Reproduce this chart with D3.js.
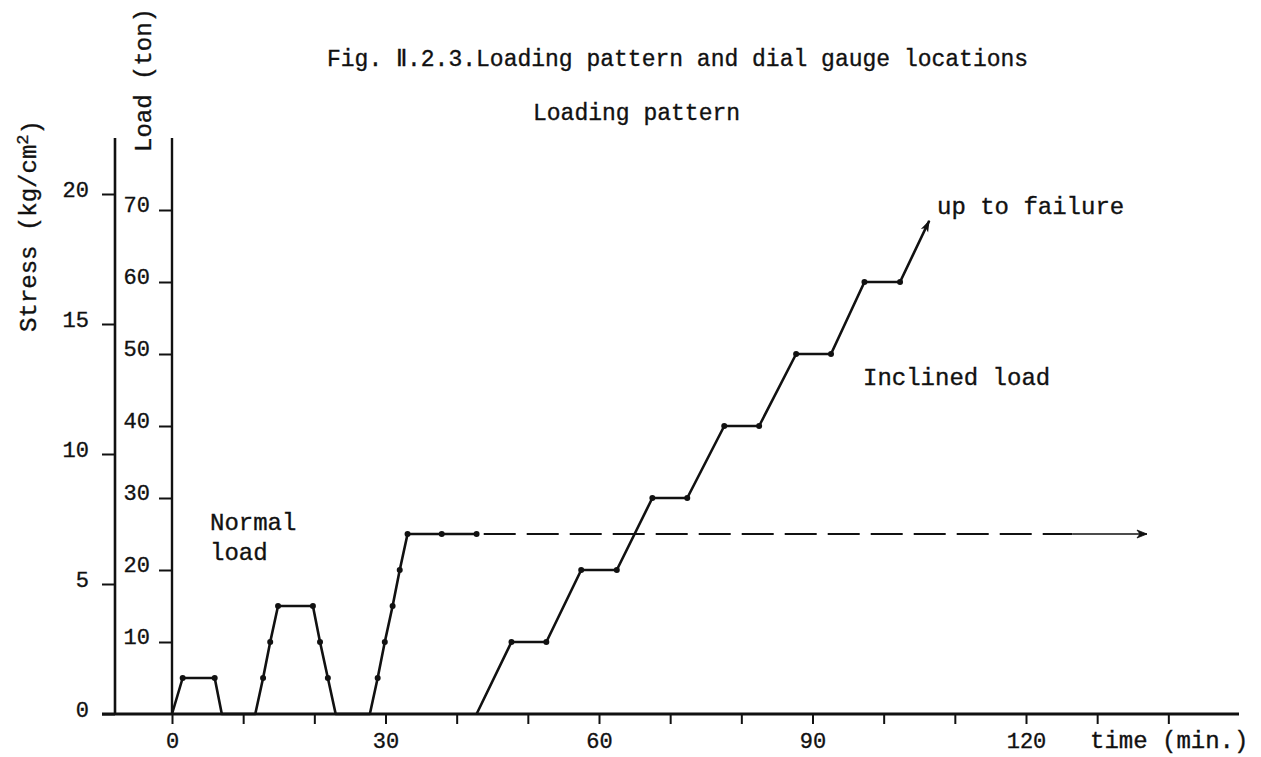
<!DOCTYPE html>
<html>
<head>
<meta charset="utf-8">
<script src="https://cdn.jsdelivr.net/npm/d3@7"></script>
<style>
body { margin: 0; background: #fff; }
text { font-family: "Liberation Mono", "DejaVu Sans Mono", monospace; fill: #111; stroke: #111; stroke-width: 0.35px; }
</style>
</head>
<body>
<div id="chart"></div>
<script>
var svgWidth = 1261;
var svgHeight = 757;

// normal load cycles: time (min) and load (ton)
var normalTime = [0, 1.5, 6, 7, 11.7, 12.8, 13.8, 14.9, 19.8, 20.8, 21.9, 23, 27.8, 28.9, 29.9, 31.0, 32.0, 33.1, 37.9, 42.8];
var normalLoad = [0, 5, 5, 0, 0, 5, 10, 15, 15, 10, 5, 0, 0, 5, 10, 15, 20, 25, 25, 25];

// normal load kept on (dashed part, then the arrow part)
var holdTime = [43.8, 126.5];
var holdLoad = [25, 25];
var holdEndTime = [126.5, 137];
var holdEndLoad = [25, 25];

// inclined load steps
var inclinedTime = [42.8, 47.7, 52.6, 57.5, 62.5, 67.5, 72.4, 77.6, 82.5, 87.7, 92.6, 97.3, 102.3, 106.4];
var inclinedLoad = [0, 10, 10, 20, 20, 30, 30, 40, 40, 50, 50, 60, 60, 68.5];

var stressTicks = [0, 5, 10, 15, 20];
var loadTicks = [10, 20, 30, 40, 50, 60, 70];
var timeTicks = [0, 10, 20, 30, 40, 50, 60, 70, 80, 90, 100, 110, 120, 130, 140];
var timeLabels = [0, 30, 60, 90, 120];

var svg = d3.select("#chart")
  .append("svg")
  .attr("width", svgWidth)
  .attr("height", svgHeight);

var x = d3.scaleLinear().domain([0, 120]).range([172, 1026]);
var yLoad = d3.scaleLinear().domain([0, 70]).range([714, 210]);
var yStress = d3.scaleLinear().domain([0, 20]).range([714, 194]);

var baseY = yLoad(0);

// arrow heads
var defs = svg.append("defs");
defs.append("marker")
  .attr("id", "arrowFill")
  .attr("viewBox", "0 0 12 10")
  .attr("refX", 11).attr("refY", 5)
  .attr("markerWidth", 12).attr("markerHeight", 10)
  .attr("markerUnits", "userSpaceOnUse")
  .attr("orient", "auto")
  .append("path")
  .attr("d", "M0,1 L12,5 L0,9 L3,5 Z")
  .attr("fill", "#111");
defs.append("marker")
  .attr("id", "arrowOpen")
  .attr("viewBox", "0 0 12 10")
  .attr("refX", 11).attr("refY", 5)
  .attr("markerWidth", 12).attr("markerHeight", 10)
  .attr("markerUnits", "userSpaceOnUse")
  .attr("orient", "auto")
  .append("path")
  .attr("d", "M1,1 L11,5 L1,9 L4,5 Z")
  .attr("fill", "#111")
  .attr("stroke", "#111")
  .attr("stroke-width", 0.8);

// axes
var stressAxis = svg.append("g")
  .attr("transform", "translate(115,0)")
  .call(d3.axisLeft(yStress).tickValues(stressTicks).tickSize(13).tickPadding(13));

var loadAxis = svg.append("g")
  .attr("transform", "translate(172,0)")
  .call(d3.axisLeft(yLoad).tickValues(loadTicks).tickSize(13).tickPadding(9));

var timeAxis = svg.append("g")
  .attr("transform", `translate(0,${baseY})`)
  .call(d3.axisBottom(x).tickValues(timeTicks).tickSize(10).tickPadding(8)
    .tickFormat(d => timeLabels.indexOf(d) >= 0 ? d : ""));

svg.selectAll(".domain").remove();
svg.selectAll(".tick line").attr("stroke", "#111").attr("stroke-width", 2);
svg.selectAll(".tick text")
  .style("font-size", "22px")
  .style("font-family", "'Liberation Mono', monospace")
  .attr("fill", "#111");
stressAxis.selectAll(".tick text").attr("dy", "0.12em");
loadAxis.selectAll(".tick text").attr("dy", "0.08em");

// axis lines
svg.append("line")
  .attr("x1", 115).attr("x2", 115).attr("y1", 138).attr("y2", baseY)
  .attr("stroke", "#111").attr("stroke-width", 2.6);
svg.append("line")
  .attr("x1", 172).attr("x2", 172).attr("y1", 138).attr("y2", baseY)
  .attr("stroke", "#111").attr("stroke-width", 2.4);
svg.append("line")
  .attr("x1", 102).attr("x2", 1239).attr("y1", baseY).attr("y2", baseY)
  .attr("stroke", "#111").attr("stroke-width", 3);

// data lines
var line = d3.line().x(d => x(d[0])).y(d => yLoad(d[1]));

var normalPts = normalTime.map((t, i) => [t, normalLoad[i]]);
var holdPts = holdTime.map((t, i) => [t, holdLoad[i]]);
var holdEndPts = holdEndTime.map((t, i) => [t, holdEndLoad[i]]);
var inclinedPts = inclinedTime.map((t, i) => [t, inclinedLoad[i]]);

svg.append("path")
  .datum(normalPts)
  .attr("d", line)
  .attr("fill", "none")
  .attr("stroke", "#111")
  .attr("stroke-width", 2.6)
  .attr("stroke-linejoin", "round");

svg.append("path")
  .datum(holdPts)
  .attr("d", line)
  .attr("fill", "none")
  .attr("stroke", "#111")
  .attr("stroke-width", 2.2)
  .attr("stroke-dasharray", "32,11");

svg.append("path")
  .datum(holdEndPts)
  .attr("d", line)
  .attr("fill", "none")
  .attr("stroke", "#111")
  .attr("stroke-width", 1.4)
  .attr("marker-end", "url(#arrowOpen)");

svg.append("path")
  .datum(inclinedPts)
  .attr("d", line)
  .attr("fill", "none")
  .attr("stroke", "#111")
  .attr("stroke-width", 2.6)
  .attr("stroke-linejoin", "round")
  .attr("marker-end", "url(#arrowFill)");

// dots at the reading points
var dotPts = normalPts.filter(d => d[1] > 0)
  .concat(inclinedPts.slice(0, -1).filter(d => d[1] > 0));
svg.selectAll("circle.pt")
  .data(dotPts)
  .enter()
  .append("circle")
  .attr("class", "pt")
  .attr("cx", d => x(d[0]))
  .attr("cy", d => yLoad(d[1]))
  .attr("r", 3)
  .attr("fill", "#111");

// texts
svg.append("text")
  .attr("x", 327).attr("y", 66)
  .style("font-size", "23px")
  .text("Fig. \u2161.2.3.Loading pattern and dial gauge locations");

svg.append("text")
  .attr("x", 533).attr("y", 120)
  .style("font-size", "23px")
  .text("Loading pattern");

var stressLabel = svg.append("text")
  .attr("transform", "translate(36,226) rotate(-90)")
  .attr("text-anchor", "middle")
  .style("font-size", "24px");
stressLabel.append("tspan").text("Stress (kg/cm");
stressLabel.append("tspan").attr("dy", "-0.45em").style("font-size", "17px").text("2");
stressLabel.append("tspan").attr("dy", "0.45em").text(")");

svg.append("text")
  .attr("transform", "translate(151,80) rotate(-90)")
  .attr("text-anchor", "middle")
  .style("font-size", "24px")
  .text("Load (ton)");

svg.append("text").attr("x", 210).attr("y", 530).style("font-size", "24px").text("Normal");
svg.append("text").attr("x", 210).attr("y", 560).style("font-size", "24px").text("load");
svg.append("text").attr("x", 863).attr("y", 385).style("font-size", "24px").text("Inclined load");
svg.append("text").attr("x", 937).attr("y", 214).style("font-size", "24px").text("up to failure");
svg.append("text").attr("x", 1090).attr("y", 748).style("font-size", "24px").text("time (min.)");
</script>
</body>
</html>
